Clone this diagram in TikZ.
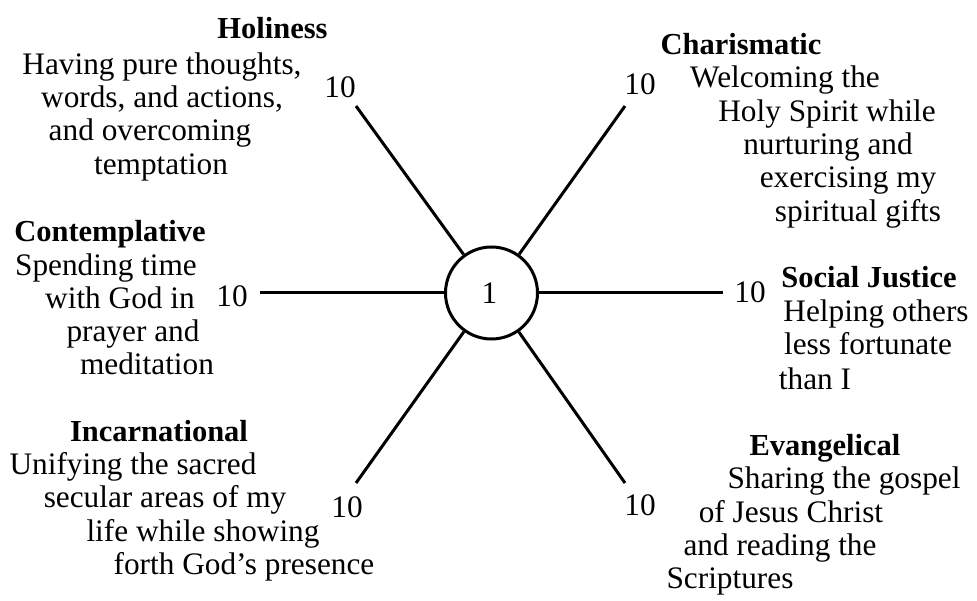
\documentclass[tikz,border=0pt]{standalone}
\usepackage{fontspec}
\setmainfont{Liberation Serif}
\begin{document}
\begin{tikzpicture}[x=1pt,y=-1pt,
  every node/.style={inner sep=0pt, outer sep=0pt, font=\fontsize{31.3}{33.5}\selectfont},
  txt/.style={anchor=base},
  ttl/.style={anchor=base, font=\fontsize{30.5}{33.5}\selectfont\bfseries},
  num/.style={anchor=base},
  spoke/.style={line width=3pt},
  hub/.style={draw, circle, line width=3pt, minimum size=92pt, inner sep=0pt, outer sep=1.5pt}]
\useasboundingbox (0,0) rectangle (977,601);

% hub and spokes
\node[hub] (c) at (491.5,293) {};
\node[num] (one) at (489.5,304) {1};
\coordinate (eUL) at (356,106);
\coordinate (eUR) at (625,106);
\coordinate (eL) at (260,293);
\coordinate (eR) at (723,293);
\coordinate (eLL) at (356,483);
\coordinate (eLR) at (625,483);
\foreach \e in {eUL,eUR,eL,eR,eLL,eLR} \draw[spoke] (c) -- (\e);

% numbers
\node[num] (nUL) at (340,98) {10};
\node[num] (nUR) at (640,95) {10};
\node[num] (nL) at (232,307) {10};
\node[num] (nR) at (750,303) {10};
\node[num] (nLL) at (347,517) {10};
\node[num] (nLR) at (640,515) {10};

% Holiness
\node[ttl] (h0) at (272.5,39) {Holiness};
\node[txt] (h1) at (162,75) {Having pure thoughts,};
\node[txt] (h2) at (162,108) {words, and actions,};
\node[txt] (h3) at (150,141) {and overcoming};
\node[txt] (h4) at (161,175) {temptation};

% Contemplative
\node[ttl] (k0) at (110,242) {Contemplative};
\node[txt] (k1) at (106,276) {Spending time};
\node[txt] (k2) at (120,309) {with God in};
\node[txt] (k3) at (133,342) {prayer and};
\node[txt] (k4) at (147,375) {meditation};

% Incarnational
\node[ttl] (i0) at (159,441) {Incarnational};
\node[txt] (i1) at (133,474) {Unifying the sacred};
\node[txt] (i2) at (165,507) {secular areas of my};
\node[txt] (i3) at (203,541) {life while showing};
\node[txt] (i4) at (244,574) {forth God’s presence};

% Charismatic
\node[ttl] (m0) at (741,55) {Charismatic};
\node[txt] (m1) at (785,88) {Welcoming the};
\node[txt] (m2) at (827,122) {Holy Spirit while};
\node[txt] (m3) at (828,155) {nurturing and};
\node[txt] (m4) at (848,188) {exercising my};
\node[txt] (m5) at (858,222) {spiritual gifts};

% Social Justice
\node[ttl] (s0) at (869,288) {Social Justice};
\node[txt] (s1) at (876,322) {Helping others};
\node[txt] (s2) at (868,355) {less fortunate};
\node[txt] (s3) at (815,389) {than I};

% Evangelical
\node[ttl] (v0) at (825,455) {Evangelical};
\node[txt] (v1) at (844,488) {Sharing the gospel};
\node[txt] (v2) at (791,522) {of Jesus Christ};
\node[txt] (v3) at (780,555) {and reading the};
\node[txt] (v4) at (730,588) {Scriptures};
\end{tikzpicture}
\end{document}
